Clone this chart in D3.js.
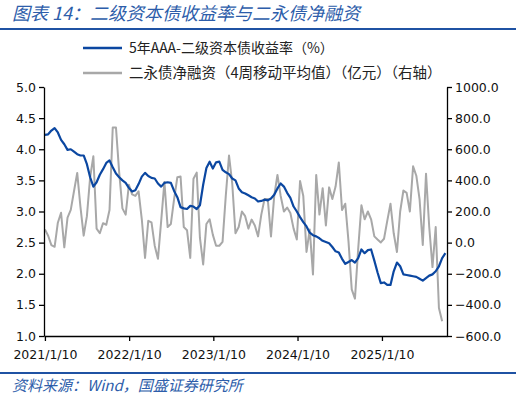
<!DOCTYPE html>
<html>
<head>
<meta charset="utf-8">
<script src="https://cdn.jsdelivr.net/npm/d3@7"></script>
<style>
  body { margin: 0; background: #fff; }
  svg { display: block; }
</style>
</head>
<body>
<svg id="chart" width="516" height="396"></svg>
<script>
// 5年AAA-二级资本债收益率 (%), biweekly from 2021/1/10
var yieldValues = [4.23,4.24,4.30,4.34,4.27,4.15,4.08,3.99,4.00,3.96,
  3.92,3.90,3.90,3.76,3.55,3.40,3.47,3.59,3.68,3.78,
  3.82,3.71,3.61,3.55,3.50,3.46,3.38,3.32,3.34,3.44,
  3.56,3.62,3.57,3.54,3.53,3.45,3.40,3.46,3.47,3.46,
  3.33,3.23,3.07,3.05,3.04,3.09,3.08,3.04,3.10,3.43,
  3.70,3.80,3.69,3.79,3.80,3.67,3.63,3.60,3.53,3.50,
  3.37,3.31,3.29,3.26,3.23,3.21,3.16,3.17,3.19,3.18,
  3.21,3.27,3.37,3.45,3.40,3.30,3.22,3.08,3.00,2.91,
  2.83,2.76,2.66,2.62,2.60,2.57,2.53,2.51,2.49,2.43,
  2.36,2.34,2.24,2.16,2.19,2.22,2.18,2.25,2.39,2.33,
  2.38,2.39,2.21,2.02,1.85,1.86,1.82,1.82,2.04,2.18,
  2.12,1.99,1.98,1.97,1.96,1.95,1.92,1.89,1.93,1.97,
  1.99,2.04,2.12,2.25,2.33]

// 二永债净融资 4周移动平均 (亿元), biweekly from 2021/1/10
var flowValues = [85,44,-16,-27,128,192,-30,160,210,330,
  448,230,45,170,420,555,90,60,125,115,
  210,740,740,450,220,180,372,310,300,330,
  150,-98,140,130,-20,-104,140,390,100,120,
  280,420,425,100,80,-98,410,450,30,-140,
  120,150,50,-20,-20,5,300,560,380,60,
  100,200,170,90,148,110,40,180,280,280,
  40,300,435,300,200,225,190,90,20,396,
  300,-60,85,-205,435,180,350,110,355,280,
  360,515,210,250,8,-300,-360,-40,240,150,
  200,150,40,20,1,25,140,250,60,-60,
  200,335,320,200,490,430,280,-15,443,100,
  -157,100,-420,-505]

var leftTicks = [1.0,1.5,2.0,2.5,3.0,3.5,4.0,4.5,5.0]
var rightTicks = [-600,-400,-200,0,200,400,600,800,1000]
var xTickDates = ["2021-01-10","2022-01-10","2023-01-10","2024-01-10","2025-01-10"]

var legendLabels = ["5年AAA-二级资本债收益率（%）", "二永债净融资（4周移动平均值）（亿元）（右轴）"]

var startDate = new Date(2021, 0, 10)
var dates = d3.range(yieldValues.length).map(function(i) { return d3.timeDay.offset(startDate, i * 14) })

var svg = d3.select("#chart")
var chartW = 516
var plotL = 44, plotR = 447, plotT = 87, plotB = 336
var blue = "#0B47A1", grey = "#A8A8A8", brand = "#1F52A3"
var numFont = "'DejaVu Sans', Verdana, sans-serif"
var cjkFont = "'Noto Sans CJK SC', 'Noto Sans', sans-serif"

// ------Header------
svg.append("text")
  .attr("x", 12)
  .attr("y", 20)
  .attr("font-family", cjkFont)
  .attr("font-size", "18px")
  .attr("font-style", "italic")
  .attr("fill", "#2D5DAA")
  .text("图表 14：二级资本债收益率与二永债净融资")

svg.append("rect")
  .attr("x", 0).attr("y", 28)
  .attr("width", chartW).attr("height", 2)
  .attr("fill", brand)

// Legend
var legend = svg.append("g")
legendLabels.forEach(function(label, i) {
  var ly = 48 + i * 25
  legend.append("line")
    .attr("x1", 83).attr("x2", 122)
    .attr("y1", ly).attr("y2", ly)
    .attr("stroke", i == 0 ? blue : grey)
    .attr("stroke-width", 2.5)
  legend.append("text")
    .attr("x", 129)
    .attr("y", ly + 5)
    .attr("font-family", cjkFont)
    .attr("font-size", i == 0 ? "14px" : "14.5px")
    .attr("fill", "#222")
    .text(label)
})

// ------Scales------
var x = d3.scaleTime()
  .domain([new Date(2021, 0, 6), new Date(2025, 9, 19)])
  .range([plotL, plotR])

var yLeft = d3.scaleLinear().domain([1, 5]).range([plotB, plotT])
var yRight = d3.scaleLinear().domain([-600, 1000]).range([plotB, plotT])

// ------Lines------
var flowLine = d3.line()
  .x(function(d, i) { return x(dates[i]) })
  .y(function(d) { return yRight(d) })

svg.append("path")
  .datum(flowValues)
  .attr("d", flowLine)
  .attr("fill", "none")
  .attr("stroke", grey)
  .attr("stroke-width", 2)
  .attr("stroke-linejoin", "round")

var yieldLine = d3.line()
  .x(function(d, i) { return x(dates[i]) })
  .y(function(d) { return yLeft(d) })

svg.append("path")
  .datum(yieldValues)
  .attr("d", yieldLine)
  .attr("fill", "none")
  .attr("stroke", blue)
  .attr("stroke-width", 2.2)
  .attr("stroke-linejoin", "round")

// ------Axes------
function styleAxis(g) {
  g.select(".domain").attr("stroke", "#000").attr("stroke-width", 1.3)
  g.selectAll(".tick line").attr("stroke", "#000").attr("stroke-width", 1.3)
  g.selectAll(".tick text")
    .attr("font-family", numFont)
    .attr("font-size", "12.5px")
    .attr("fill", "#111")
}

svg.append("g")
  .attr("transform", "translate(" + plotL + ",0)")
  .call(d3.axisLeft(yLeft)
    .tickValues(leftTicks)
    .tickFormat(d3.format(".1f"))
    .tickSize(5)
    .tickSizeOuter(0)
    .tickPadding(3))
  .call(styleAxis)

svg.append("g")
  .attr("transform", "translate(" + plotR + ",0)")
  .call(d3.axisRight(yRight)
    .tickValues(rightTicks)
    .tickFormat(d3.format(".1f"))
    .tickSize(5)
    .tickSizeOuter(0)
    .tickPadding(3))
  .call(styleAxis)

svg.append("g")
  .attr("transform", "translate(0," + plotB + ")")
  .call(d3.axisBottom(x)
    .tickValues(xTickDates.map(function(s) { return d3.timeParse("%Y-%m-%d")(s) }))
    .tickFormat(d3.timeFormat("%Y/%-m/%-d"))
    .tickSize(5)
    .tickSizeOuter(0)
    .tickPadding(9))
  .call(styleAxis)

// ------Footer------
svg.append("rect")
  .attr("x", 0).attr("y", 372)
  .attr("width", chartW).attr("height", 2)
  .attr("fill", brand)

svg.append("text")
  .attr("x", 12)
  .attr("y", 391)
  .attr("font-family", cjkFont)
  .attr("font-size", "15px")
  .attr("font-style", "italic")
  .attr("fill", "#2D5DAA")
  .text("资料来源：Wind，国盛证券研究所")
</script>
</body>
</html>
